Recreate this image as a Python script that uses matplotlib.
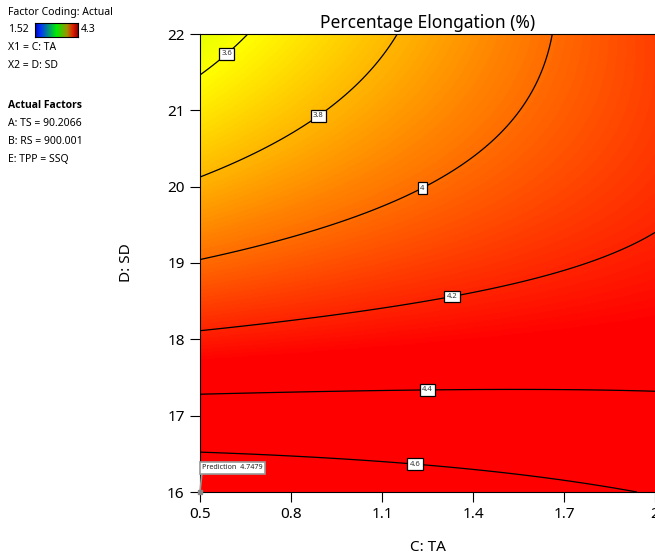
import numpy as np
import matplotlib
matplotlib.use("Agg")
import matplotlib.pyplot as plt
from matplotlib.colors import LinearSegmentedColormap

plt.rcParams["font.family"] = ["Noto Sans", "DejaVu Sans"]

# ── Model (coded units, x1=(C-1.25)/0.75, x2=(D-19)/3) ──────────────────────
# terms: intercept, x1, x2, x1*x2, x1^2, x2^2
COEF = [4.12704, 0.10973, -0.41934, 0.18721, -0.00817, 0.13188]

C_RANGE = [0.5, 2.0]
D_RANGE = [16, 22]
Z_MIN, Z_MAX = 1.52, 4.3

LEVELS = [3.6, 3.8, 4.0, 4.2, 4.4, 4.6]
LABEL_AT = [(0.579, 21.78), (0.89, 20.93), (1.23, 20.0),
            (1.33, 18.58), (1.25, 17.30), (1.21, 16.41)]

X_TICKS = [0.5, 0.8, 1.1, 1.4, 1.7, 2.0]
X_TICKLABELS = ["0.5", "0.8", "1.1", "1.4", "1.7", "2"]
Y_TICKS = [16, 17, 18, 19, 20, 21, 22]

PRED_POINT = (0.5, 16.0)
PRED_VALUE = 4.7479

SIDE_TEXT = ["Factor Coding: Actual", "X1 = C: TA", "X2 = D: SD"]
ACTUAL_FACTORS = ["A: TS = 90.2066", "B: RS = 900.001", "E: TPP = SSQ"]


def model(c, d):
    x1 = (c - 1.25) / 0.75
    x2 = (d - 19) / 3
    b = COEF
    return b[0] + b[1]*x1 + b[2]*x2 + b[3]*x1*x2 + b[4]*x1**2 + b[5]*x2**2


cmap = LinearSegmentedColormap.from_list(
    "de", [(0, "#0000ff"), (0.25, "#00ffff"), (0.5, "#00ff00"),
           (0.75, "#ffff00"), (1.0, "#ff0000")])
bar_cmap = LinearSegmentedColormap.from_list(
    "bar", [(0, "#0000b0"), (0.12, "#0030ff"), (0.5, "#00ee00"),
            (0.75, "#a09000"), (0.88, "#e02000"), (1.0, "#900000")])

fig = plt.figure(figsize=(6.55, 5.58), dpi=100)
W, H = 655, 558
ax = fig.add_axes([200 / W, 1 - 492 / H, 455 / W, 458 / H])

cc = np.linspace(C_RANGE[0], C_RANGE[1], 400)
dd = np.linspace(D_RANGE[0], D_RANGE[1], 400)
CG, DG = np.meshgrid(cc, dd)
Z = model(CG, DG)

ax.imshow(Z, origin="lower", extent=[*C_RANGE, *D_RANGE], aspect="auto",
          cmap=cmap, vmin=Z_MIN, vmax=Z_MAX, interpolation="bilinear")
cs = ax.contour(CG, DG, Z, levels=LEVELS, colors="black", linewidths=0.9)
labels = ax.clabel(cs, fmt=lambda v: f"{v:g}", fontsize=5.5, inline=False,
                   manual=LABEL_AT)
for t in labels:
    t.set_rotation(0)
    t.set_color("#333333")
    t.set_bbox(dict(boxstyle="square,pad=0.3", fc="white", ec="black", lw=0.9))

ax.set_xlim(*C_RANGE)
ax.set_ylim(*D_RANGE)
ax.set_xticks(X_TICKS)
ax.set_xticklabels(X_TICKLABELS)
ax.set_yticks(Y_TICKS)
ax.tick_params(direction="out", length=7, width=0.8, labelsize=11, pad=4)
ax.spines["right"].set_visible(False)
for s in ["left", "bottom", "top"]:
    ax.spines[s].set_linewidth(0.8)

ax.set_title("Percentage Elongation (%)", fontsize=12.5, pad=4)
ax.set_xlabel("C: TA", fontsize=11, labelpad=13)
ax.set_ylabel("D: SD", fontsize=11, labelpad=24)

# prediction flag
ax.plot(*PRED_POINT, "s", ms=2.5, color="#888888", clip_on=False, zorder=5)
ax.annotate(f"Prediction  {PRED_VALUE}", xy=PRED_POINT, xytext=(1.5, 15),
            textcoords="offset points", fontsize=5.2, ha="left", va="bottom",
            color="#222222", annotation_clip=False,
            bbox=dict(boxstyle="square,pad=0.35", fc="white", ec="#999999", lw=1.2),
            arrowprops=dict(arrowstyle="-", color="#999999", lw=1.2,
                            relpos=(0, 0), shrinkA=0, shrinkB=0))

# side legend
fs = 7.5
fig.text(8 / W, 1 - 12 / H, SIDE_TEXT[0], fontsize=fs, va="center")
fig.text(8 / W, 1 - 30 / H, f"{Z_MIN}", fontsize=fs, va="center")
fig.text(81 / W, 1 - 30 / H, f"{Z_MAX}", fontsize=fs, va="center")
cax = fig.add_axes([35 / W, 1 - 37 / H, 43 / W, 14 / H])
cax.imshow(np.linspace(0, 1, 200)[None, :], aspect="auto", cmap=bar_cmap)
cax.set_xticks([])
cax.set_yticks([])
for s in cax.spines.values():
    s.set_linewidth(0.8)
fig.text(8 / W, 1 - 48 / H, SIDE_TEXT[1], fontsize=fs, va="center")
fig.text(8 / W, 1 - 66 / H, SIDE_TEXT[2], fontsize=fs, va="center")
fig.text(8 / W, 1 - 105 / H, "Actual Factors", fontsize=fs, va="center",
         fontweight="bold", family=["Open Sans", "Lato", "DejaVu Sans"])
for i, s in enumerate(ACTUAL_FACTORS):
    fig.text(8 / W, 1 - (123 + 18.5 * i) / H, s, fontsize=fs, va="center")

fig.savefig("out.png", dpi=100)
